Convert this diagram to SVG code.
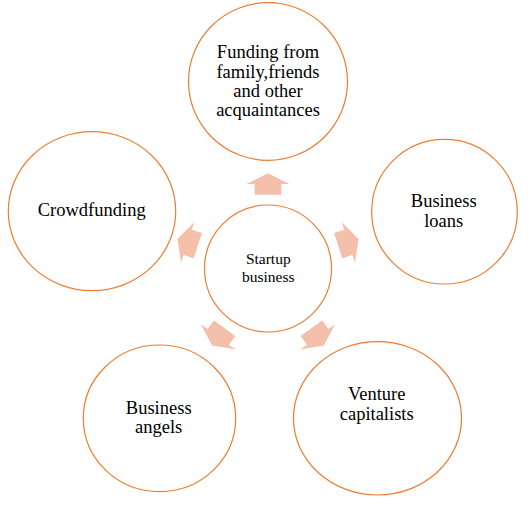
<svg xmlns="http://www.w3.org/2000/svg" width="528" height="505" viewBox="0 0 528 505">
<defs>
<style>
.node ellipse{fill:#ffffff;stroke:#ed7d31;stroke-width:1.2}
.node text{font-family:"Liberation Serif","Times New Roman",serif;font-size:18.5px;fill:#000;text-anchor:middle}
#center text{font-size:15.5px}
.arrow{fill:#f4c0ab;stroke:none}
</style>
<polygon id="arr" class="arrow" points="-13.3,-73.8 -13.3,-84.5 -21.5,-84.5 0,-95.2 21.5,-84.5 13.3,-84.5 13.3,-73.8"/>
</defs>
<rect width="528" height="505" fill="#ffffff"/>
<g id="connectors" transform="translate(268,268.5)">
<use href="#arr"/>
<use href="#arr" transform="rotate(72)"/>
<use href="#arr" transform="rotate(144)"/>
<use href="#arr" transform="rotate(216)"/>
<use href="#arr" transform="rotate(288)"/>
</g>
<g id="center" class="node">
<ellipse cx="268" cy="268.5" rx="63.5" ry="63.5"/>
<text x="268.3" y="264.3">Startup</text>
<text x="268.3" y="281.7">business</text>
</g>
<g id="family" class="node">
<ellipse cx="268" cy="81.5" rx="79.5" ry="78.8"/>
<text x="268" y="58.3">Funding from</text>
<text x="268" y="77.7">family,friends</text>
<text x="268" y="96.9">and other</text>
<text x="268" y="116.3">acquaintances</text>
</g>
<g id="loans" class="node">
<ellipse cx="444.5" cy="211.7" rx="72.8" ry="72.3"/>
<text x="443.7" y="206.7">Business</text>
<text x="443.7" y="226.5">loans</text>
</g>
<g id="venture" class="node">
<ellipse cx="377.5" cy="418.3" rx="84" ry="76.7"/>
<text x="376.7" y="400">Venture</text>
<text x="376.7" y="420">capitalists</text>
</g>
<g id="angels" class="node">
<ellipse cx="159.5" cy="418.3" rx="76.2" ry="73.3"/>
<text x="158.7" y="414">Business</text>
<text x="158.7" y="433.3">angels</text>
</g>
<g id="crowdfunding" class="node">
<ellipse cx="92" cy="211.2" rx="83.7" ry="79.5"/>
<text x="91.7" y="216">Crowdfunding</text>
</g>
</svg>
